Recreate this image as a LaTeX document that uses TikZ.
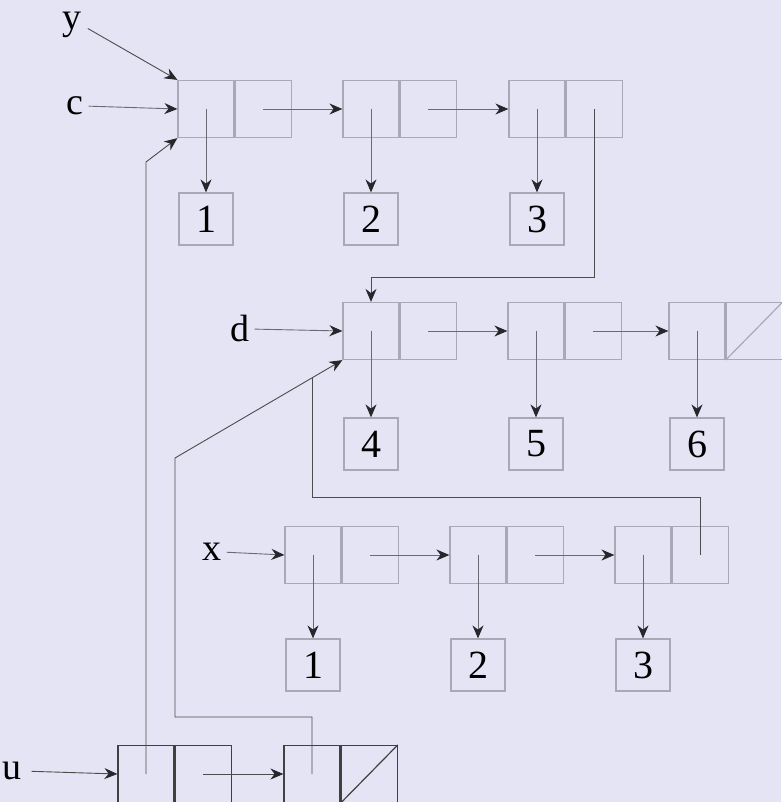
\documentclass[tikz,border=0pt]{standalone}
\usepackage{fontspec}
\setmainfont{Liberation Serif}
\usetikzlibrary{arrows.meta,calc}
\definecolor{paperlav}{HTML}{E5E4F4}
\definecolor{cellgray}{HTML}{A9A8B6}
\definecolor{ptrgray}{HTML}{6A6A74}
\definecolor{tipdark}{HTML}{26262C}

\tikzset{
  halfcell/.style={draw=cellgray, line width=1.2pt, minimum width=56pt,
    minimum height=57pt, inner sep=0pt},
  valbox/.style={draw=cellgray, line width=1.2pt, minimum width=54pt,
    minimum height=52pt, inner sep=0pt, font=\fontsize{40}{40}\selectfont},
  varname/.style={inner sep=0pt, font=\fontsize{38}{38}\selectfont},
  ptr/.style={draw=ptrgray, line width=0.9pt,
    -{Stealth[length=13pt,width=11pt,color=tipdark]}},
}

\begin{document}
\begin{tikzpicture}[x=1pt,y=-1pt]
  \fill[paperlav] (0,0) rectangle (781,802);
  \useasboundingbox (0,0) rectangle (781,802);

  % three rows of cons cells, each car pointing to its value box
  \foreach \name/\px/\py/\vy/\val in {c1/206/109/219/1, c2/371/109/219/2, c3/537/109/219/3,
      d1/371/331/444/4, d2/536/331/444/5, d3/697/331/444/6,
      x1/313/555/665/1, x2/478/555/665/2, x3/643/555/665/3} {
    \node[halfcell] (\name car) at (\px,\py) {};
    \node[halfcell, anchor=west] (\name cdr) at (\name car.east) {};
    \node[valbox] (\name val) at (\px,\vy) {\val};
    \draw[ptr] (\name car.center) -- (\name val.north);
  }

  % the u list, its cars point back into the other lists
  \node[halfcell, draw=black!75] (u1car) at (146,774) {};
  \node[halfcell, draw=black!75, anchor=west] (u1cdr) at (u1car.east) {};
  \node[halfcell, draw=black!75] (u2car) at (312,774) {};
  \node[halfcell, draw=black!75, anchor=west] (u2cdr) at (u2car.east) {};

  % nil slots
  \draw[cellgray, line width=1.2pt] (d3cdr.south west) -- (d3cdr.north east);
  \draw[black!75, line width=1.2pt] (u2cdr.south west) -- (u2cdr.north east);

  % variable names
  \node[varname] (yname) at (72,25) {y};
  \node[varname] (cname) at (75,106) {c};
  \node[varname] (dname) at (240,329) {d};
  \node[varname] (xname) at (212,552) {x};
  \node[varname] (uname) at (12,771) {u};

  \draw[ptr, draw=black!70, shorten <=7pt] (yname.east) -- (c1car.north west);
  \draw[ptr, shorten <=5pt] (cname.east) -- (c1car.west);
  \draw[ptr, shorten <=5pt] (dname.east) -- (d1car.west);
  \draw[ptr, shorten <=5pt] (xname.east) -- (x1car.west);
  \draw[ptr, draw=black!70, shorten <=10pt] (uname.east) -- (u1car.west);

  % cdr links along each list
  \draw[ptr] (c1cdr.center) -- (c2car.west);
  \draw[ptr] (c2cdr.center) -- (c3car.west);
  \draw[ptr] (d1cdr.center) -- (d2car.west);
  \draw[ptr] (d2cdr.center) -- (d3car.west);
  \draw[ptr] (x1cdr.center) -- (x2car.west);
  \draw[ptr] (x2cdr.center) -- (x3car.west);
  \draw[ptr, draw=black!70] (u1cdr.center) -- (u2car.west);

  % shared tails
  \draw[ptr, draw=black!70] (c3cdr.center) -- ++(0,168) -| (d1car.north);
  \coordinate (ubend) at (175,458);
  \coordinate (join) at ($(ubend)!0.82!(d1car.south west)$);
  \draw[draw=black!70, line width=0.9pt] (x3cdr.center) -- ++(0,-58) -| (join);
  \draw[ptr, draw=black!70] (u2car.center) -- ++(0,-57) -| (ubend) -- (d1car.south west);
  \draw[ptr, draw=black!70] (u1car.center) -- ++(0,-612) -- (c1car.south west);
\end{tikzpicture}
\end{document}
